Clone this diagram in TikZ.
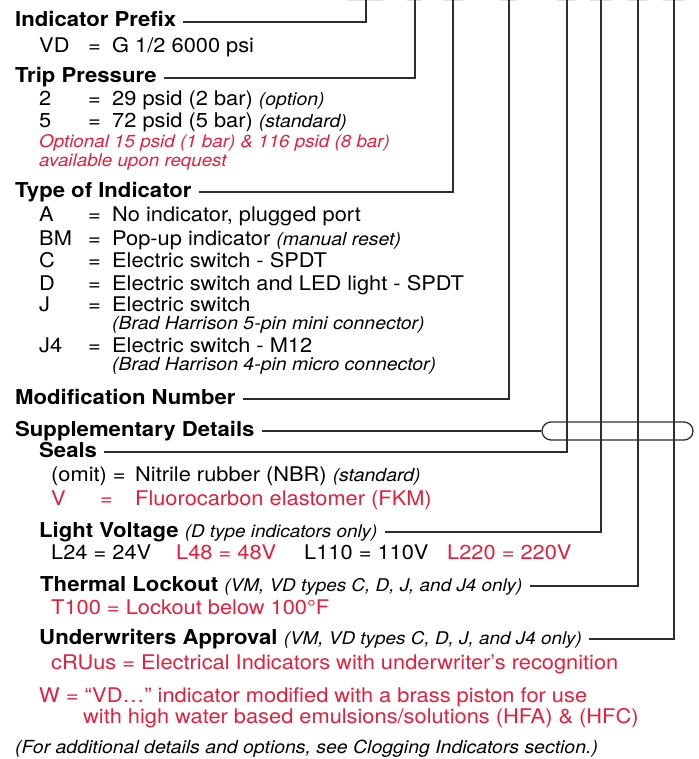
\documentclass[tikz,border=0pt]{standalone}
\usepackage{fontspec}
\setmainfont[FakeStretch=1.08]{TeX Gyre Heros}
\usepackage{xcolor}
\usepackage{tikz}
\usetikzlibrary{positioning}

\definecolor{specred}{RGB}{230,30,60}
\definecolor{leadgray}{RGB}{45,45,45}
\newcommand{\smallit}[1]{{\fontsize{18}{20}\selectfont\itshape #1}}
\newcommand{\hdnote}[1]{{\fontsize{17.5}{20}\selectfont\mdseries\itshape #1}}
\newcommand{\keyrow}[3][24pt]{\makebox[49pt][l]{#2}\makebox[#1][l]{=}#3}

\begin{document}
\begin{tikzpicture}[
  x=1pt, y=-1pt,
  font=\fontsize{20.2}{22}\selectfont,
  txt/.style={anchor=base west, inner sep=0pt},
  head/.style={txt, font=\fontsize{20.5}{22}\selectfont\bfseries, text height=10pt, text depth=0pt},
  alert/.style={text=specred},
  optnote/.style={txt, alert, font=\fontsize{17.4}{19}\selectfont\itshape},
  lead/.style={draw=leadgray, line width=1.3pt, shorten <=7pt},
  pill/.style={draw=leadgray, line width=1.3pt, rounded corners=9pt,
               minimum width=151pt, minimum height=18pt, inner sep=0pt},
  topedge/.style={gray!25, line width=1pt},
]
\useasboundingbox (0,0) rectangle (698,759);

% Faint box edges cut off at the top
\foreach \a/\b in {347/383, 407/422, 443/463, 500/517, 557/575, 590/612, 627/647, 663/685}
  {\draw[topedge] (\a,0.5) -- (\b,0.5);}

% Top ends of the leader lines
\foreach \n/\x in {prefix/366, trip/415, type/453, mod/509, seals/567, volt/601, lock/638, ul/674}
  {\coordinate (top-\n) at (\x,0);}

% Indicator prefix
\node[head] (hd-prefix) at (15,27) {Indicator Prefix};
\node[txt] (vd) at (39,53) {\keyrow{VD}{G 1/2 6000 psi}};

% Trip pressure
\node[head] (hd-trip) at (15,83) {Trip Pressure};
\node[txt] (tp-2) at (39,106) {\keyrow{2}{29 psid (2 bar) \smallit{(option)}}};
\node[txt] (tp-5) at (39,128) {\keyrow{5}{72 psid (5 bar) \smallit{(standard)}}};
\node[optnote] (tp-opt) at (39,148) {Optional 15 psid (1 bar) \& 116 psid (8 bar)};
\node[optnote] (tp-req) at (39,167) {available upon request};

% Type of indicator
\node[head] (hd-type) at (15,197) {Type of Indicator};
\foreach \k/\v/\y in {A/{No indicator, plugged port}/222,
                      BM/{Pop-up indicator \smallit{(manual reset)}}/245,
                      C/{Electric switch - SPDT}/267,
                      D/{Electric switch and LED light - SPDT}/290,
                      J/{Electric switch}/311,
                      J4/{Electric switch - M12}/352}
  {\node[txt] (ty-\k) at (39,\y) {\keyrow{\k}{\v}};}
\node[txt] (brad5) at (112,329) {\smallit{(Brad Harrison 5-pin mini connector)}};
\node[txt] (brad4) at (112,370) {\smallit{(Brad Harrison 4-pin micro connector)}};

% Modification number and supplementary details
\node[head] (hd-mod) at (15,404) {Modification Number};
\node[head] (hd-supp) at (15,436) {Supplementary Details};
\node[pill] (pill) at (617.5,431) {};

% Seals
\node[head] (hd-seals) at (39,457) {Seals};
\node[txt] (sl-omit) at (51,481) {\makebox[84pt][l]{(omit) =}Nitrile rubber (NBR) \smallit{(standard)}};
\node[txt, alert] (sl-v) at (51,505) {\makebox[49pt][l]{V}\makebox[35pt][l]{=}Fluorocarbon elastomer (FKM)};

% Light voltage
\node[head] (hd-volt) at (39,537) {Light Voltage \hdnote{(D type indicators only)}};
\node[txt] (lv) at (51,559) {\makebox[125pt][l]{L24 = 24V}\makebox[128pt][l]{\textcolor{specred}{L48 = 48V}}\makebox[143pt][l]{L110 = 110V}\textcolor{specred}{L220 = 220V}};

% Thermal lockout
\node[head] (hd-lock) at (40,591) {Thermal Lockout \hdnote{(VM, VD types C, D, J, and J4 only)}};
\node[txt, alert] (tl) at (51,614) {T100 = Lockout below 100°F};

% Underwriters approval
\node[head] (hd-ul) at (39,644) {Underwriters Approval \hdnote{(VM, VD types C, D, J, and J4 only)}};
\node[txt, alert] (ua) at (51,669) {cRUus = Electrical Indicators with underwriter’s recognition};

% Water based option and footnote
\node[txt, alert] (wmod) at (39,702) {W = “VD…” indicator modified with a brass piston for use};
\node[txt, alert] (wmod2) at (83,723) {with high water based emulsions/solutions (HFA) \& (HFC)};
\node[txt] (foot) at (15,753) {\smallit{(For additional details and options, see Clogging Indicators section.)}};

% Leader lines
\foreach \n in {prefix, trip, type, mod, seals, volt, lock, ul}
  {\draw[lead] (hd-\n.east) -| (top-\n);}
\draw[lead] (hd-supp.east) -- (pill.west);

\end{tikzpicture}
\end{document}
